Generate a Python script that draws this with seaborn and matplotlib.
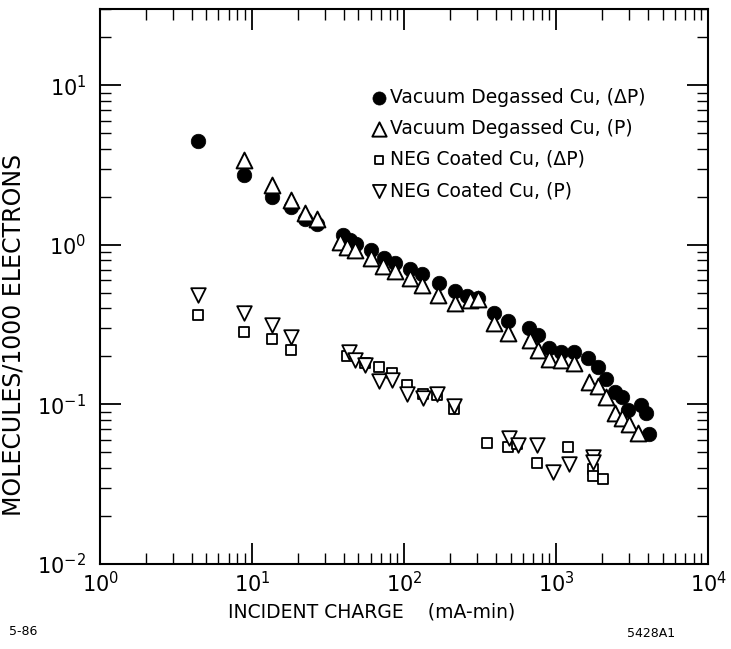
import numpy as np
import pandas as pd
import matplotlib
matplotlib.use("Agg")
import matplotlib.pyplot as plt
import seaborn as sns
from matplotlib.ticker import LogLocator, NullFormatter

# ---------------- data ----------------
vac_dp_x = [4.4, 8.8, 13.4, 17.9, 22.1, 26.5, 39.8, 44.3, 48.4, 60.8, 73.9, 87.3, 109, 131,
            170, 216, 259, 306, 389, 481, 661, 757, 893, 1071, 1303, 1610, 1871, 2113, 2420,
            2690, 2943, 3583, 3864, 4045]
vac_dp_y = [4.45, 2.73, 1.99, 1.72, 1.45, 1.35, 1.15, 1.07, 1.01, 0.925, 0.824, 0.767, 0.703,
            0.654, 0.575, 0.512, 0.477, 0.463, 0.373, 0.332, 0.300, 0.272, 0.225, 0.213, 0.213,
            0.195, 0.171, 0.144, 0.119, 0.111, 0.092, 0.099, 0.088, 0.065]

vac_p_x = [8.9, 13.4, 18.1, 22.1, 26.8, 38.0, 42.3, 47.5, 60.8, 72.6, 87.3, 109, 131, 167,
           216, 271, 306, 389, 481, 670, 757, 893, 1071, 1303, 1633, 1871, 2113, 2420, 2690,
           2987, 3423]
vac_p_y = [3.39, 2.36, 1.90, 1.58, 1.45, 1.04, 0.966, 0.925, 0.824, 0.735, 0.684, 0.618, 0.558,
           0.483, 0.431, 0.450, 0.456, 0.323, 0.279, 0.253, 0.219, 0.192, 0.189, 0.181, 0.138,
           0.130, 0.111, 0.088, 0.082, 0.075, 0.066]

neg_dp_x = [4.4, 8.8, 13.6, 17.9, 42.3, 55.5, 68.6, 83.4, 105, 133, 165, 213, 350, 481, 551,
            745, 1189, 1735, 1735, 2018]
neg_dp_y = [0.362, 0.284, 0.256, 0.219, 0.201, 0.181, 0.171, 0.157, 0.132, 0.116, 0.114,
            0.0935, 0.0573, 0.054, 0.0564, 0.0429, 0.054, 0.0393, 0.0356, 0.0341]

neg_p_x = [4.4, 8.8, 13.6, 17.9, 43.6, 47.5, 55.5, 68.6, 83.4, 105, 133, 165, 213, 488, 560,
           745, 948, 1208, 1735, 1735]
neg_p_y = [0.483, 0.373, 0.314, 0.264, 0.213, 0.189, 0.176, 0.140, 0.142, 0.117, 0.109, 0.116,
           0.0974, 0.0615, 0.0556, 0.0556, 0.0377, 0.0423, 0.0468, 0.0435]

labels = ["Vacuum Degassed Cu, (\u0394P)", "Vacuum Degassed Cu, (P)",
          "NEG Coated Cu, (\u0394P)", "NEG Coated Cu, (P)"]

# ---------------- style ----------------
sns.set_style("ticks")
plt.rcParams["font.family"] = ["DejaVu Sans"]
plt.rcParams.update({"text.color": "black", "axes.labelcolor": "black",
                     "xtick.color": "black", "ytick.color": "black"})

fig = plt.figure(figsize=(7.31, 6.49), dpi=100)
ax = fig.add_axes([0.137, 0.131, 0.832, 0.855])

series = [
    (vac_dp_x, vac_dp_y, labels[0], dict(marker="o", s=110, color="black", edgecolor="black", linewidth=0.5)),
    (vac_p_x, vac_p_y, labels[1], dict(marker="^", s=130, facecolor="white", edgecolor="black", linewidth=1.4)),
    (neg_dp_x, neg_dp_y, labels[2], dict(marker="s", s=45, facecolor="white", edgecolor="black", linewidth=1.3)),
    (neg_p_x, neg_p_y, labels[3], dict(marker="v", s=110, facecolor="white", edgecolor="black", linewidth=1.3)),
]
for xs, ys, lab, kw in series:
    df = pd.DataFrame({"x": xs, "y": ys})
    sns.scatterplot(data=df, x="x", y="y", ax=ax, label=lab, zorder=3, **kw)

ax.set_xscale("log")
ax.set_yscale("log")
ax.set_xlim(1, 1e4)
ax.set_ylim(1e-2, 30)

ax.xaxis.set_major_locator(LogLocator(base=10, numticks=10))
ax.yaxis.set_major_locator(LogLocator(base=10, numticks=10))
ax.xaxis.set_minor_locator(LogLocator(base=10, subs=np.arange(2, 10), numticks=20))
ax.yaxis.set_minor_locator(LogLocator(base=10, subs=np.arange(2, 10), numticks=20))
ax.xaxis.set_minor_formatter(NullFormatter())
ax.yaxis.set_minor_formatter(NullFormatter())

ax.tick_params(which="both", direction="in", top=True, right=True, colors="black")
ax.tick_params(which="major", length=15, width=1.3, labelsize=15)
ax.tick_params(which="minor", length=8, width=1.0)
ax.tick_params(axis="x", which="major", pad=5)
ax.tick_params(axis="y", which="major", pad=10)
for sp in ax.spines.values():
    sp.set_linewidth(1.5)
    sp.set_color("black")

ax.set_xlabel("INCIDENT CHARGE    (mA-min)", fontsize=13.5)
ax.set_ylabel("MOLECULES/1000 ELECTRONS", fontsize=17)
ax.xaxis.set_label_coords(0.447, -0.069)
ax.yaxis.set_label_coords(-0.122, 0.413)

leg = ax.legend(loc="upper left", bbox_to_anchor=(0.43, 0.872), frameon=False, fontsize=13.5,
                handletextpad=0.1, labelspacing=0.65, borderaxespad=0, handlelength=1.0,
                markerscale=0.9)

fig.text(0.012, 0.022, "5-86", fontsize=9)
fig.text(0.858, 0.019, "5428A1", fontsize=9)

fig.savefig("out.png", dpi=100)
